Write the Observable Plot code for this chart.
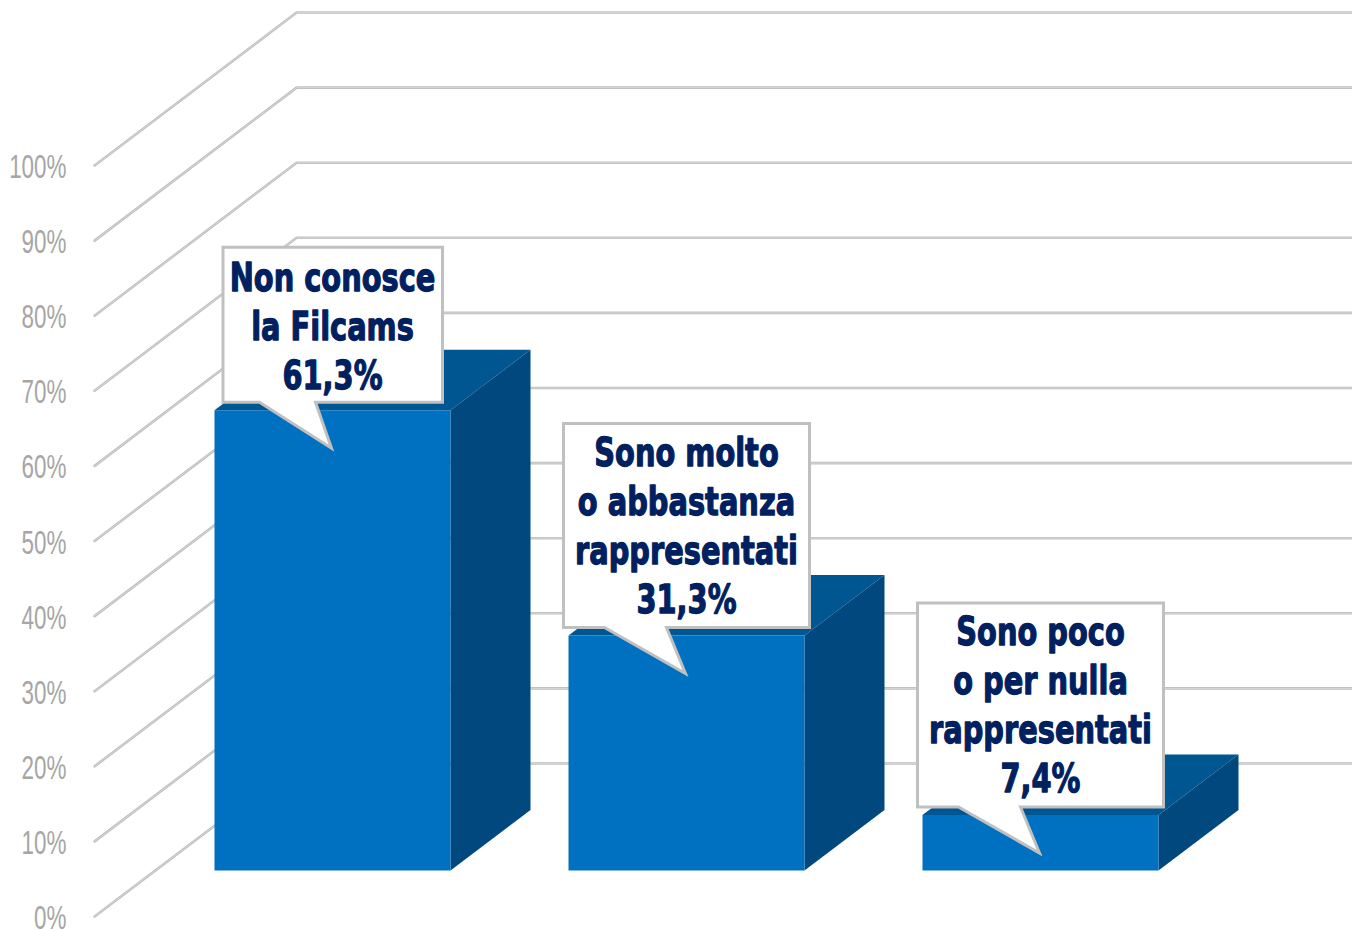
<!DOCTYPE html>
<html><head><meta charset="utf-8">
<script src="https://cdn.jsdelivr.net/npm/d3@7"></script>
<script src="https://cdn.jsdelivr.net/npm/@observablehq/plot@0.6"></script>
<style>html,body{margin:0;padding:0;background:#fff;overflow:hidden}svg{display:block}</style>
</head><body><div id="chart"></div>
<script>
const categories = ["Non conosce\nla Filcams", "Sono molto\no abbastanza\nrappresentati", "Sono poco\no per nulla\nrappresentati"];
const values = [61.3, 31.3, 7.4];
const valueLabels = ["61,3%", "31,3%", "7,4%"];
const ticks = [0,10,20,30,40,50,60,70,80,90,100];

// 3-D projection, in data units
const wallLeft = -0.672, depthX = 0.5706, depthY = 20.37, floorT = 0.3, backT = 0.696, halfBar = 1/3;
const px = (i, t) => i + (t - floorT) * depthX;
const py = (v, t) => v + t * depthY;
const rows = values.map((v, i) => ({i, v, label: categories[i] + "\n" + valueLabels[i]}));

const face = (pts) => rows.flatMap(r => pts(r).map(([x, y]) => ({x, y, z: r.i})));
const frontFace = r => [[r.i-halfBar, py(0,floorT)],[r.i+halfBar, py(0,floorT)],[r.i+halfBar, py(r.v,floorT)],[r.i-halfBar, py(r.v,floorT)]];
const sideFace = r => [[r.i+halfBar, py(0,floorT)],[px(r.i,backT)+halfBar, py(0,backT)],[px(r.i,backT)+halfBar, py(r.v,backT)],[r.i+halfBar, py(r.v,floorT)]];
const topFace = r => [[r.i-halfBar, py(r.v,floorT)],[r.i+halfBar, py(r.v,floorT)],[px(r.i,backT)+halfBar, py(r.v,backT)],[px(r.i,backT)-halfBar, py(r.v,backT)]];

const wall = ticks.flatMap(t => [
  {x: wallLeft, y: t, t},
  {x: wallLeft + depthX, y: t + depthY, t},
  {x: 3, y: t + depthY, t}
]);

// callout outlines relative to the tip, in pixels
const callout = (l, r, h, a, b) => ({draw(c) {
  c.moveTo(-1, 0); c.lineTo(b, -46); c.lineTo(r, -46); c.lineTo(r, -46-h); c.lineTo(l, -46-h); c.lineTo(l, -46); c.lineTo(a, -46); c.closePath();
}});
const shapes = [callout(-109.5, 110, 155, -73, -17), callout(-123, 123, 204, -82, -20), callout(-123, 123, 204, -82, -20)];

const solid = (pts, fill) => Plot.line(face(pts), {x: "x", y: "y", z: "z", fill, stroke: "none"});

// condense text horizontally, since no condensed face is installed
const squeeze = (sx) => (index, scales, values, dims, context, next) => {
  const g = next(index, scales, values, dims, context);
  g.querySelectorAll("text").forEach(t => t.setAttribute("transform", (t.getAttribute("transform") || "") + ` scale(${sx},1)`));
  return g;
};

const chart = Plot.plot({
  width: 1352, height: 930,
  marginLeft: 0, marginRight: 0, marginTop: 165, marginBottom: 14,
  x: {domain: [-332/354, 1020/354], axis: null},
  y: {domain: [0, 100], axis: null},
  style: {background: "#fff"},
  marks: [
    Plot.line(wall, {x: "x", y: "y", z: "t", stroke: "#bfbfbf", strokeWidth: 2.6, strokeLinejoin: "miter"}),
    Plot.line(wall, {x: "x", y: "y", z: "t", stroke: "#dedede", strokeWidth: 0.7, strokeLinejoin: "miter"}),
    solid(topFace, "#005690"),
    solid(sideFace, "#00487D"),
    solid(frontFace, "#0070C0"),
    ...rows.map(r => Plot.dot([r], {
      x: "i", y: d => py(d.v, floorT), dy: 38, r: 1, symbol: shapes[r.i],
      fill: "#fff", stroke: "#c0c0c0", strokeWidth: 3, strokeLinejoin: "miter"
    })),
    ...rows.map(r => Plot.text([r], {
      x: "i", y: d => py(d.v, floorT), text: "label",
      dy: r.i === 0 ? -86 : -112,
      fontFamily: "DejaVu Sans", fontWeight: 700, fontSize: 39, lineHeight: 1.26,
      fill: "#002060", stroke: "#002060", strokeWidth: 1.3, textAnchor: "middle", lineAnchor: "middle",
      render: squeeze(0.74)
    })),
    Plot.text(ticks, {
      x: -0.7514, y: d => d, text: d => d + "%", textAnchor: "end",
      fontFamily: "Liberation Sans", fontSize: 33, fill: "#a6a6a6", dy: 2,
      render: squeeze(0.68)
    })
  ]
});
document.getElementById("chart").append(chart);
</script></body></html>
